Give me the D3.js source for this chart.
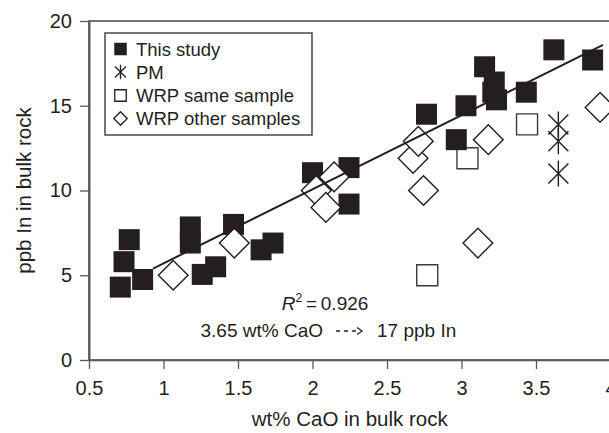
<!DOCTYPE html>
<html>
<head>
<meta charset="utf-8">
<script src="https://cdn.jsdelivr.net/npm/d3@7"></script>
<style>
  body { margin: 0; background: #fff; }
  svg { display: block; font-family: "Liberation Sans", Arial, Helvetica, sans-serif; }
  .axis path, .axis line { stroke: #58595b; }
  .axis text { fill: #231f20; font-size: 20px; }
</style>
</head>
<body>
<svg id="chart"></svg>
<script>
// This study (wt% CaO, ppb In)
const studyX = [0.71, 0.735, 0.77, 0.86, 1.18, 1.18, 1.26, 1.35, 1.47, 1.655, 1.735, 2.0, 2.245, 2.245, 2.765, 2.965, 3.03, 3.155, 3.22, 3.21, 3.235, 3.435, 3.62, 3.88]
const studyY = [4.3, 5.8, 7.1, 4.75, 7.85, 6.9, 5.05, 5.5, 8.0, 6.5, 6.9, 11.05, 11.35, 9.2, 14.5, 13.0, 15.0, 17.3, 16.4, 15.8, 15.35, 15.8, 18.3, 17.7]
// PM
const pmX = [3.65, 3.65, 3.65]
const pmY = [13.9, 12.9, 11.0]
// WRP same sample
const sameX = [2.77, 3.04, 3.44]
const sameY = [5.0, 11.9, 13.9]
// WRP other samples
const otherX = [1.065, 1.475, 2.025, 2.09, 2.145, 2.675, 2.71, 2.745, 3.11, 3.18, 3.93]
const otherY = [5.0, 6.9, 10.0, 9.0, 10.8, 11.9, 12.9, 10.0, 6.9, 13.0, 14.9]
// fitted line
const fitSlope = 4.37
const fitIntercept = 1.33
const fitRange = [0.93, 3.95]

const xTicks = [0.5, 1, 1.5, 2, 2.5, 3, 3.5, 4]
const yTicks = [0, 5, 10, 15, 20]
const legendLabels = ['This study', 'PM', 'WRP same sample', 'WRP other samples']

const width = 609, height = 433
const margin = {top: 21, right: -1.5, bottom: 73, left: 89}
const ink = '#231f20'

const svg = d3.select('#chart').attr('width', width).attr('height', height)

const x = d3.scaleLinear().domain([0.5, 4]).range([margin.left, width - margin.right])
const y = d3.scaleLinear().domain([0, 20]).range([height - margin.bottom, margin.top])

// frame
svg.append('rect')
  .attr('x', x(0.5)).attr('y', y(20))
  .attr('width', x(4) - x(0.5)).attr('height', y(0) - y(20))
  .attr('fill', 'none').attr('stroke', '#3a3a3c').attr('stroke-width', 1.4)

let xAxis = d3.axisBottom(x).tickValues(xTicks).tickFormat(d3.format('')).tickSize(9).tickSizeOuter(0).tickPadding(12)
svg.append('g').attr('class', 'x-axis axis')
  .attr('transform', `translate(0,${y(0)})`).call(xAxis)
  .call(g => g.select('.domain').attr('stroke-width', 1.4))
  .call(g => g.selectAll('.tick line').attr('stroke-width', 1.3))

let yAxis = d3.axisLeft(y).tickValues(yTicks).tickSize(9).tickSizeOuter(0).tickPadding(8)
svg.append('g').attr('class', 'y-axis axis')
  .attr('transform', `translate(${x(0.5)},0)`).call(yAxis)
  .call(g => g.select('.domain').attr('stroke-width', 2))
  .call(g => g.selectAll('.tick line').attr('stroke-width', 1.3))

// axis titles
svg.append('text')
  .attr('x', (x(0.5) + x(4)) / 2).attr('y', 426)
  .attr('text-anchor', 'middle').attr('font-size', 20.5).attr('fill', ink)
  .text('wt% CaO in bulk rock')
svg.append('text')
  .attr('transform', `translate(31,${(y(0) + y(20)) / 2}) rotate(-90)`)
  .attr('text-anchor', 'middle').attr('font-size', 20.5).attr('fill', ink)
  .text('ppb In in bulk rock')

// marker shapes
const side = 21
const square = d3.symbol().type(d3.symbolSquare).size(side * side)
function asterisk(r) {
  let p = d3.path()
  p.moveTo(0, -r * 1.3); p.lineTo(0, r * 1.3)
  p.moveTo(-r, -r); p.lineTo(r, r)
  p.moveTo(-r, r); p.lineTo(r, -r)
  return p.toString()
}

const plot = svg.append('g')

// WRP same sample
plot.selectAll('.same').data(sameX)
  .enter().append('path')
  .attr('class', 'same')
  .attr('d', square())
  .attr('transform', (d, i) => `translate(${x(d)},${y(sameY[i])})`)
  .attr('fill', '#fff').attr('stroke', '#3a3a3c').attr('stroke-width', 1.4)

// This study
plot.selectAll('.study').data(studyX)
  .enter().append('path')
  .attr('class', 'study')
  .attr('d', square())
  .attr('transform', (d, i) => `translate(${x(d)},${y(studyY[i])})`)
  .attr('fill', ink)

// WRP other samples
plot.selectAll('.other').data(otherX)
  .enter().append('path')
  .attr('class', 'other')
  .attr('d', square())
  .attr('transform', (d, i) => `translate(${x(d)},${y(otherY[i])}) rotate(45)`)
  .attr('fill', '#fff').attr('stroke', ink).attr('stroke-width', 1.4)

// PM
plot.selectAll('.pm').data(pmX)
  .enter().append('path')
  .attr('class', 'pm')
  .attr('d', asterisk(10))
  .attr('transform', (d, i) => `translate(${x(d)},${y(pmY[i])})`)
  .attr('fill', 'none').attr('stroke', ink).attr('stroke-width', 1.4)

// regression line
const fitLine = d3.line().x(d => x(d)).y(d => y(fitSlope * d + fitIntercept))
plot.append('path')
  .attr('d', fitLine(fitRange))
  .attr('fill', 'none').attr('stroke', ink).attr('stroke-width', 2)

// legend
const lg = svg.append('g')
lg.append('rect')
  .attr('x', 105).attr('y', 33).attr('width', 207).attr('height', 102)
  .attr('fill', '#fff').attr('stroke', '#3a3a3c').attr('stroke-width', 1.4)
const rowY = [49, 72, 95.5, 118.5]
const lsq = d3.symbol().type(d3.symbolSquare).size(12.5 * 12.5)
legendLabels.forEach((label, i) => {
  let g = lg.append('g').attr('transform', `translate(120.5,${rowY[i]})`)
  if (i === 0) g.append('path').attr('d', lsq()).attr('fill', ink)
  if (i === 1) g.append('path').attr('d', asterisk(5.5)).attr('fill', 'none').attr('stroke', ink).attr('stroke-width', 1.3)
  if (i === 2) g.append('path').attr('d', d3.symbol().type(d3.symbolSquare).size(11.5 * 11.5)()).attr('fill', '#fff').attr('stroke', ink).attr('stroke-width', 1.3)
  if (i === 3) g.append('path').attr('d', d3.symbol().type(d3.symbolSquare).size(9.5 * 9.5)()).attr('transform', 'rotate(45)').attr('fill', '#fff').attr('stroke', ink).attr('stroke-width', 1.3)
  lg.append('text')
    .attr('x', 136).attr('y', rowY[i] + 6.5)
    .attr('font-size', 18.5).attr('fill', ink)
    .text(label)
})

// annotation
const r2 = svg.append('text')
  .attr('x', 325).attr('y', 310)
  .attr('text-anchor', 'middle').attr('font-size', 19).attr('fill', ink)
r2.append('tspan').attr('font-style', 'italic').text('R')
r2.append('tspan').attr('font-size', 12).attr('dy', -8).text('2')
r2.append('tspan').attr('dy', 8).text('\u2009=\u20090.926')

svg.append('text')
  .attr('x', 323).attr('y', 337)
  .attr('text-anchor', 'end').attr('font-size', 19).attr('fill', ink)
  .text('3.65 wt% CaO')
svg.append('line')
  .attr('x1', 336).attr('x2', 356).attr('y1', 331).attr('y2', 331)
  .attr('stroke', ink).attr('stroke-width', 1.3).attr('stroke-dasharray', '4,4')
svg.append('path')
  .attr('d', 'M357,327.5L362,331L357,334.5')
  .attr('fill', 'none').attr('stroke', ink).attr('stroke-width', 1.3)
svg.append('text')
  .attr('x', 377).attr('y', 337)
  .attr('font-size', 19).attr('fill', ink)
  .text('17 ppb In')
</script>
</body>
</html>
